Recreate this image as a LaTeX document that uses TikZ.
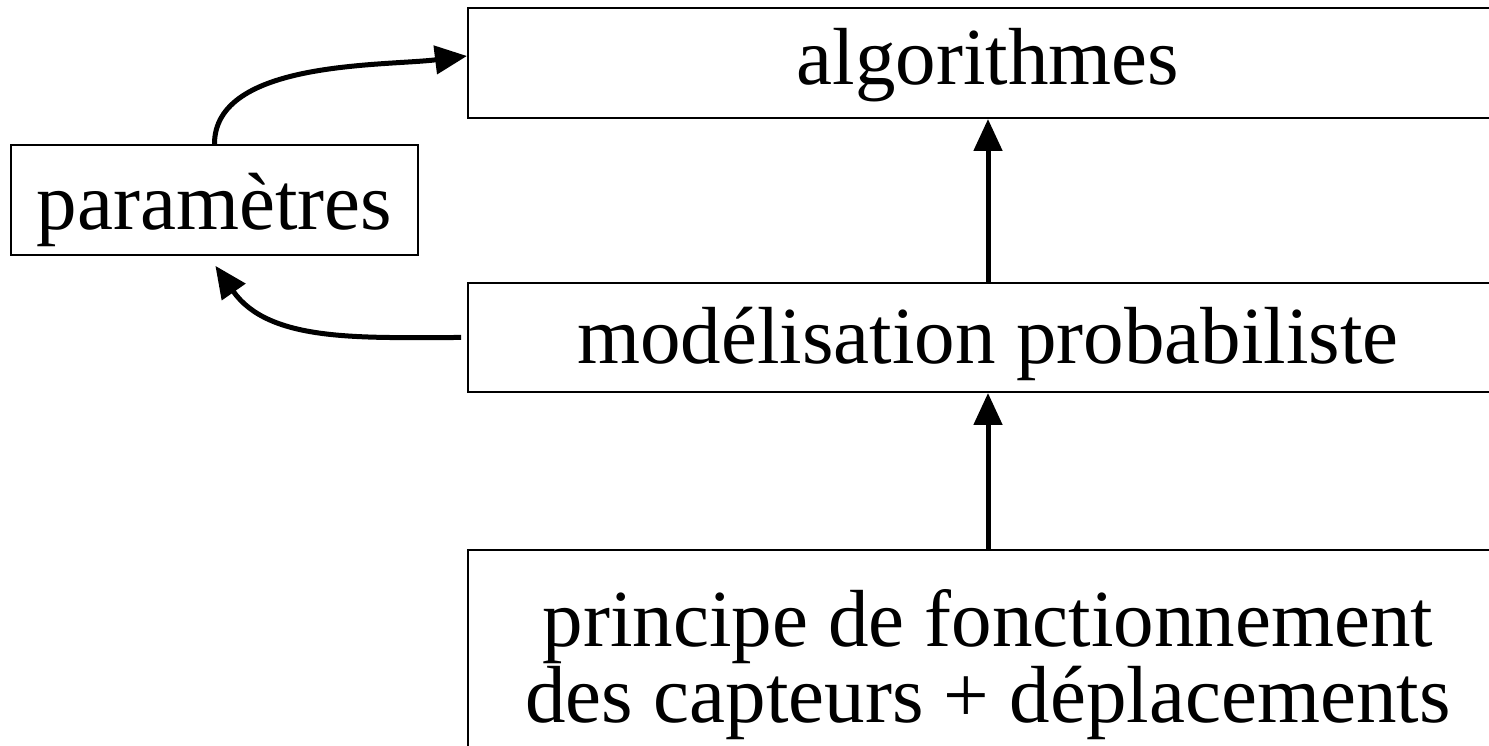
\documentclass[tikz,border=0pt]{standalone}
\usepackage{fontspec}
\setmainfont{Liberation Serif}
\usetikzlibrary{arrows.meta}
\begin{document}
\begin{tikzpicture}[x=1pt,y=1pt,
  box/.style={draw=black, line width=2pt, inner sep=0pt, align=center,
    font=\fontsize{81}{76}\selectfont},
  arr/.style={line width=5pt, -{Triangle[length=32pt,width=28pt]}}]
\useasboundingbox (0,0) rectangle (1489,746);
\node[box, minimum width=1040pt, minimum height=110pt, text height=60pt, text depth=16pt] (alg) at (988,683) {algorithmes};
\node[box, minimum width=407pt, minimum height=110pt, text height=60pt, text depth=0pt] (par) at (214.5,546) {paramètres};
\node[box, minimum width=1040pt, minimum height=109pt, text height=60pt, text depth=7pt] (mod) at (988,408.5) {modélisation probabiliste};
\node[box, minimum width=1040pt, minimum height=220pt, text height=136pt, text depth=10pt] (pri) at (988,86) {principe de fonctionnement\\des capteurs + déplacements};
\draw[arr] (pri.north) -- (mod.south);
\draw[arr] (mod.north) -- (alg.south);
\draw[arr] (par.north) to[out=90,in=187,looseness=0.8] ([yshift=7pt]alg.west);
\draw[arr, shorten <=6pt, shorten >=12pt] (mod.west) to[out=180,in=-55] ([xshift=-6pt]par.south);
\end{tikzpicture}
\end{document}
